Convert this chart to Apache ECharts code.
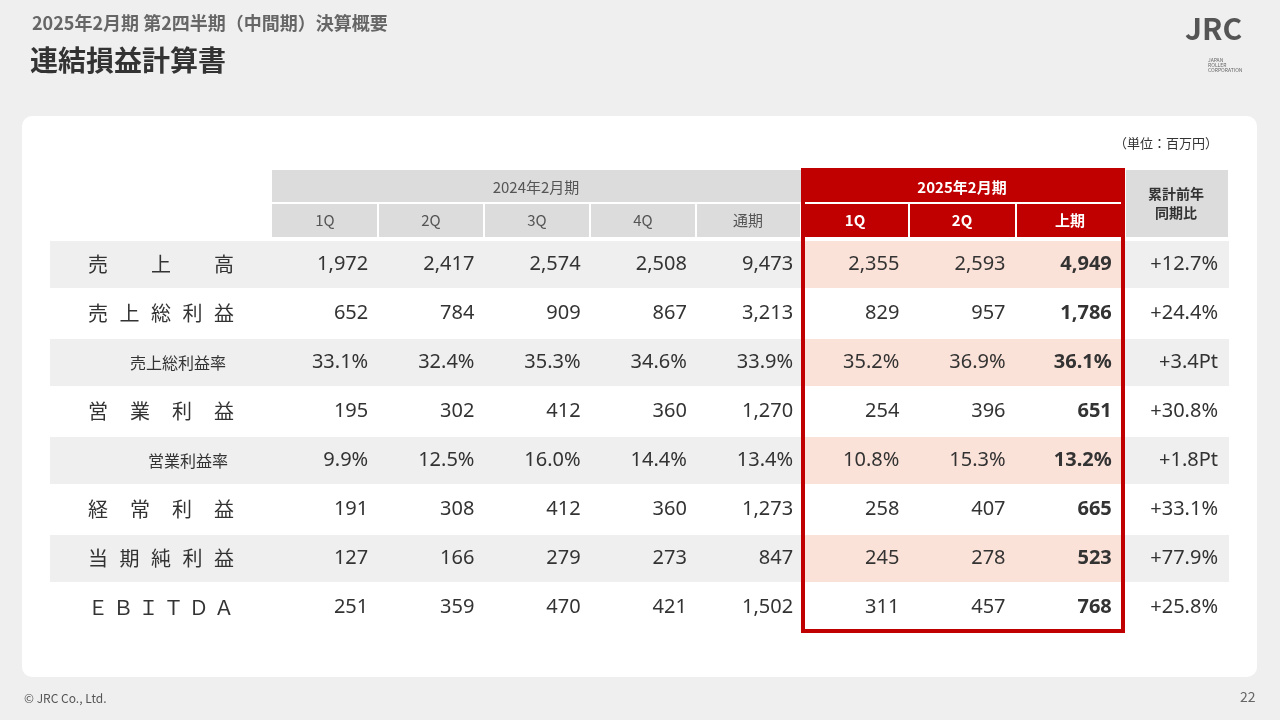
<!DOCTYPE html>
<html><head><meta charset="utf-8">
<script src="https://cdn.jsdelivr.net/npm/echarts@6/dist/echarts.min.js"></script>
<style>html,body{margin:0;padding:0;background:#eee}#c{width:1280px;height:720px}</style>
</head><body><div id="c"></div>
<script>
const rowLabels = ['売上高','売上総利益','売上総利益率','営業利益','営業利益率','経常利益','当期純利益','ＥＢＩＴＤＡ'];
const rowIndent = [false,false,true,false,true,false,false,false];
const colLabels = ['1Q','2Q','3Q','4Q','通期','1Q','2Q','上期','累計前年\n同期比'];
const q1_24 = ['1,972','652','33.1%','195','9.9%','191','127','251'];
const q2_24 = ['2,417','784','32.4%','302','12.5%','308','166','359'];
const q3_24 = ['2,574','909','35.3%','412','16.0%','412','279','470'];
const q4_24 = ['2,508','867','34.6%','360','14.4%','360','273','421'];
const fy_24 = ['9,473','3,213','33.9%','1,270','13.4%','1,273','847','1,502'];
const q1_25 = ['2,355','829','35.2%','254','10.8%','258','245','311'];
const q2_25 = ['2,593','957','36.9%','396','15.3%','407','278','457'];
const h1_25 = ['4,949','1,786','36.1%','651','13.2%','665','523','768'];
const yoy = ['+12.7%','+24.4%','+3.4Pt','+30.8%','+1.8Pt','+33.1%','+77.9%','+25.8%'];
const cols = [q1_24,q2_24,q3_24,q4_24,fy_24,q1_25,q2_25,h1_25,yoy];

const data = [];
cols.forEach((c,ci)=>c.forEach((v,ri)=>data.push([ci,ri,v])));
const labelData = rowLabels.map((l,i)=>[0,i,l]);

const chart = echarts.init(document.getElementById('c'));
const F = '"Noto Sans CJK JP","Noto Sans",sans-serif';
const NF = '"Noto Sans","Noto Sans CJK JP",sans-serif';
chart.setOption({
  animation:false,
  backgroundColor:'#efefef',
  grid:{left:272,right:52,top:240,bottom:88},
  xAxis:{type:'category',data:colLabels,show:false},
  yAxis:{type:'category',data:rowLabels,inverse:true,show:false},
  graphic:[
    {type:'rect',shape:{x:22,y:116,width:1235,height:561,r:10},style:{fill:'#fff'},z:-10},
    {type:'text',left:32,top:14,style:{text:'2025年2月期 第2四半期（中間期）決算概要',fill:'#666',font:'bold 18px '+F}},
    {type:'text',left:30,top:46,style:{text:'連結損益計算書',fill:'#333',font:'bold 28px '+F}},
    {type:'text',left:1185,top:14,style:{text:'JRC',fill:'#555',font:'bold 30px '+F}},
    {type:'text',left:1208,top:58,style:{text:'JAPAN\nROLLER\nCORPORATION',fill:'#666',font:'5px '+F}},
    {type:'text',left:24,top:692,style:{text:'© JRC Co., Ltd.',fill:'#555',font:'12px '+F}},
    {type:'text',left:1240,top:690,style:{text:'22',fill:'#666',font:'14px '+F}},
    {type:'text',right:62,top:137,style:{text:'（単位：百万円）',fill:'#333',font:'13px '+F}},
    {type:'rect',shape:{x:272,y:170,width:529,height:67},style:{fill:'#dcdcdc'}},
    {type:'text',x:536,y:187,style:{text:'2024年2月期',fill:'#555',font:'15px '+F,align:'center',verticalAlign:'middle'}},
    {type:'rect',shape:{x:801,y:170,width:323,height:67},style:{fill:'#c00000'}},
    {type:'text',x:962,y:187,style:{text:'2025年2月期',fill:'#fff',font:'bold 15px '+F,align:'center',verticalAlign:'middle'}},
    {type:'line',shape:{x1:272,y1:203,x2:801,y2:203},style:{stroke:'#fff',lineWidth:2}},
    {type:'line',shape:{x1:801,y1:203,x2:1124,y2:203},style:{stroke:'#fff',lineWidth:2}},
    {type:'rect',shape:{x:1126,y:170,width:102,height:67},style:{fill:'#dcdcdc'}},
    {type:'rect',shape:{x:803,y:170,width:320,height:461},style:{fill:'none',stroke:'#c00000',lineWidth:4},z:100}
  ].concat([378,484,590,696,801,909,1016].map(x=>({type:'line',shape:{x1:x,y1:203,x2:x,y2:237},style:{stroke:'#fff',lineWidth:2}})))
   .concat(colLabels.slice(0,8).map((t,i)=>{const xs=[325,431,537,643,748,855,962,1070];
     return {type:'text',x:xs[i],y:220,style:{text:t,fill:i>=5?'#fff':'#555',font:(i>=5?'bold ':'')+'15px '+F,align:'center',verticalAlign:'middle'}};}))
   .concat([{type:'text',x:1176,y:203,style:{text:'累計前年\n同期比',fill:'#333',font:'bold 14px '+F,align:'center',verticalAlign:'middle',lineHeight:19}}]),
  series:[
    {type:'custom',data:labelData,renderItem:(p,api)=>{
      const r=api.value(1), c=api.coord([0,r]), h=api.size([1,1])[1];
      const y=c[1];
      const ch=[];
      if(r%2===0) ch.push({type:'rect',shape:{x:50,y:y-h/2+1,width:222,height:h-2},style:{fill:'#efefef'}});
      const t=rowLabels[r];
      if(rowIndent[r]){
        ch.push({type:'text',style:{text:t,x:r===2?178:188,y:y,fill:'#333',font:'16px '+F,align:'center',verticalAlign:'middle'}});
      } else {
        const chars=[...t], n=chars.length, x0=98, x1=224;
        chars.forEach((s,k)=>ch.push({type:'text',style:{text:s,x:x0+(x1-x0)*k/(n-1),y:y,fill:'#333',font:'20px '+F,align:'center',verticalAlign:'middle'}}));
      }
      return {type:'group',children:ch};
    }},
    {type:'custom',data:data,encode:{x:0,y:1},renderItem:(p,api)=>{
      const ci=api.value(0), r=api.value(1), c=api.coord([ci,r]), s=api.size([1,1]);
      const v=data[p.dataIndex][2];
      const ch=[];
      if(r%2===0){const red=ci>=5&&ci<=7;
        ch.push({type:'rect',shape:{x:c[0]-s[0]/2,y:c[1]-s[1]/2+1,width:s[0]+1,height:s[1]-2},style:{fill:red?'#fbe2d8':'#efefef'}});}
      ch.push({type:'text',style:{text:v,x:c[0]+s[0]/2-10,y:c[1],fill:'#333',font:(ci===7?'bold ':'')+'20px '+NF,align:'right',verticalAlign:'middle'}});
      return {type:'group',children:ch};
    }}
  ]
});
</script></body></html>
